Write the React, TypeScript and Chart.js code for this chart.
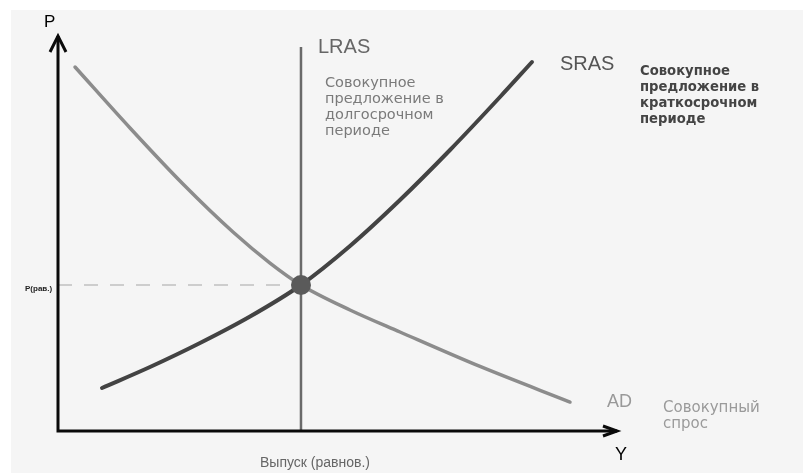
import React, { useEffect, useRef } from "react";
import { Chart, registerables } from "chart.js";

Chart.register(...registerables);

// Output (x) and price level (y) in arbitrary units, axes run 0..100
const AD_X = [3.04, 12.86, 22.32, 31.25, 37.86, 43.39, 52.14, 61.07, 75.36, 91.43];
const AD_Y = [91.92, 76.52, 62.37, 50.25, 42.42, 36.87, 30.56, 25.0, 16.29, 7.32];
const SRAS_X = [7.86, 16.43, 25.36, 34.29, 43.39, 52.14, 61.07, 70.0, 78.93, 84.64];
const SRAS_Y = [10.86, 16.16, 22.22, 28.91, 36.87, 46.72, 58.33, 70.96, 84.34, 93.18];
const LRAS_X = [43.39, 43.39];
const LRAS_Y = [0, 97];
const EQ_X = [43.39];
const EQ_Y = [36.87];
const PRICE_GUIDE_X = [0, 41.4];
const PRICE_GUIDE_Y = [36.87, 36.87];

const LRAS_NOTE = ["Совокупное", "предложение в", "долгосрочном", "периоде"];
const SRAS_NOTE = ["Совокупное", "предложение в", "краткосрочном", "периоде"];
const AD_NOTE = ["Совокупный", "спрос"];

const pts = (xs: number[], ys: number[]) => xs.map((x, i) => ({ x, y: ys[i] }));

const SANS = '"Liberation Sans", Arial, sans-serif';
const WIDE = '"DejaVu Sans", Verdana, sans-serif';

const decorPlugin = {
  id: "decor",
  beforeDraw(chart: any) {
    const { ctx, width, height } = chart;
    ctx.save();
    ctx.fillStyle = "#ffffff";
    ctx.fillRect(0, 0, width, height);
    ctx.fillStyle = "#f5f5f5";
    ctx.fillRect(11, 10, width - 11, height - 10);
    ctx.restore();
  },
  afterDatasetsDraw(chart: any) {
    const { ctx } = chart;
    const xs = chart.scales.x;
    const ys = chart.scales.y;
    const x0 = xs.getPixelForValue(0);
    const y0 = ys.getPixelForValue(0);
    const xEnd = xs.getPixelForValue(100);
    const yEnd = ys.getPixelForValue(100);
    ctx.save();
    ctx.strokeStyle = "#0a0a0a";
    ctx.lineWidth = 3;
    ctx.lineCap = "butt";
    ctx.beginPath();
    ctx.moveTo(x0, y0 + 1.5);
    ctx.lineTo(x0, yEnd + 1);
    ctx.moveTo(x0 - 1.5, y0);
    ctx.lineTo(xEnd - 1, y0);
    ctx.stroke();
    ctx.lineJoin = "miter";
    ctx.beginPath();
    ctx.moveTo(x0 - 8, yEnd + 17);
    ctx.lineTo(x0, yEnd + 1);
    ctx.lineTo(x0 + 8, yEnd + 17);
    ctx.stroke();
    ctx.beginPath();
    ctx.moveTo(xEnd - 15, y0 - 5);
    ctx.lineTo(xEnd - 1, y0);
    ctx.lineTo(xEnd - 15, y0 + 5);
    ctx.stroke();
    ctx.restore();
  },
  afterDraw(chart: any) {
    const { ctx } = chart;
    const text = (s: string, x: number, y: number, font: string, color: string) => {
      ctx.font = font;
      ctx.fillStyle = color;
      ctx.textAlign = "left";
      ctx.textBaseline = "alphabetic";
      ctx.fillText(s, x, y);
    };
    ctx.save();
    text("P", 44, 27, `17px ${SANS}`, "#000");
    text("Y", 615, 460, `18px ${SANS}`, "#000");
    text("LRAS", 318, 53, `20px ${SANS}`, "#666");
    text("SRAS", 560, 70, `20px ${SANS}`, "#555");
    text("AD", 607, 407, `18px ${SANS}`, "#999");
    text("Выпуск (равнов.)", 260, 467, `14px ${SANS}`, "#666");
    text("P(рав.)", 25, 291, `bold 8px ${SANS}`, "#222");
    LRAS_NOTE.forEach((s, i) => text(s, 325, 87 + i * 16, `14.5px ${WIDE}`, "#7a7a7a"));
    SRAS_NOTE.forEach((s, i) => text(s, 640, 75 + i * 16, `bold 13.2px ${WIDE}`, "#444"));
    AD_NOTE.forEach((s, i) => text(s, 663, 412 + i * 16, `15px ${WIDE}`, "#9a9a9a"));
    ctx.restore();
  },
};

export default function App() {
  const ref = useRef<HTMLCanvasElement | null>(null);
  useEffect(() => {
    if (!ref.current) return;
    const chart = new Chart(ref.current, {
      type: "scatter",
      data: {
        datasets: [
          {
            label: "P(рав.)",
            data: pts(PRICE_GUIDE_X, PRICE_GUIDE_Y),
            showLine: true,
            borderColor: "#cdcdcd",
            borderWidth: 2,
            borderDash: [14, 12],
            pointRadius: 0,
            clip: false,
            order: 4,
          } as any,
          {
            label: "LRAS",
            data: pts(LRAS_X, LRAS_Y),
            showLine: true,
            borderColor: "#6a6a6a",
            borderWidth: 2.5,
            pointRadius: 0,
            clip: false,
            order: 3,
          } as any,
          {
            label: "AD",
            data: pts(AD_X, AD_Y),
            showLine: true,
            borderColor: "#8c8c8c",
            borderWidth: 3.5,
            pointRadius: 0,
            cubicInterpolationMode: "monotone",
            borderCapStyle: "round",
            clip: false,
            order: 2,
          } as any,
          {
            label: "SRAS",
            data: pts(SRAS_X, SRAS_Y),
            showLine: true,
            borderColor: "#434343",
            borderWidth: 4,
            pointRadius: 0,
            cubicInterpolationMode: "monotone",
            borderCapStyle: "round",
            clip: false,
            order: 1,
          } as any,
          {
            label: "E",
            data: pts(EQ_X, EQ_Y),
            showLine: false,
            pointRadius: 10,
            pointBackgroundColor: "#5a5a5a",
            pointBorderWidth: 0,
            clip: false,
            order: 0,
          } as any,
        ],
      },
      options: {
        responsive: false,
        maintainAspectRatio: false,
        animation: false,
        events: [],
        layout: { padding: { left: 58, right: 185, top: 35, bottom: 42 } },
        scales: {
          x: { type: "linear", min: 0, max: 100, display: false },
          y: { type: "linear", min: 0, max: 100, display: false },
        },
        plugins: { legend: { display: false }, tooltip: { enabled: false } },
      },
      plugins: [decorPlugin],
    });
    return () => chart.destroy();
  }, []);
  return (
    <div style={{ position: "fixed", left: 0, top: 0, width: 803, height: 473 }}>
      <canvas ref={ref} width={803} height={473} style={{ display: "block", width: 803, height: 473 }} />
    </div>
  );
}
